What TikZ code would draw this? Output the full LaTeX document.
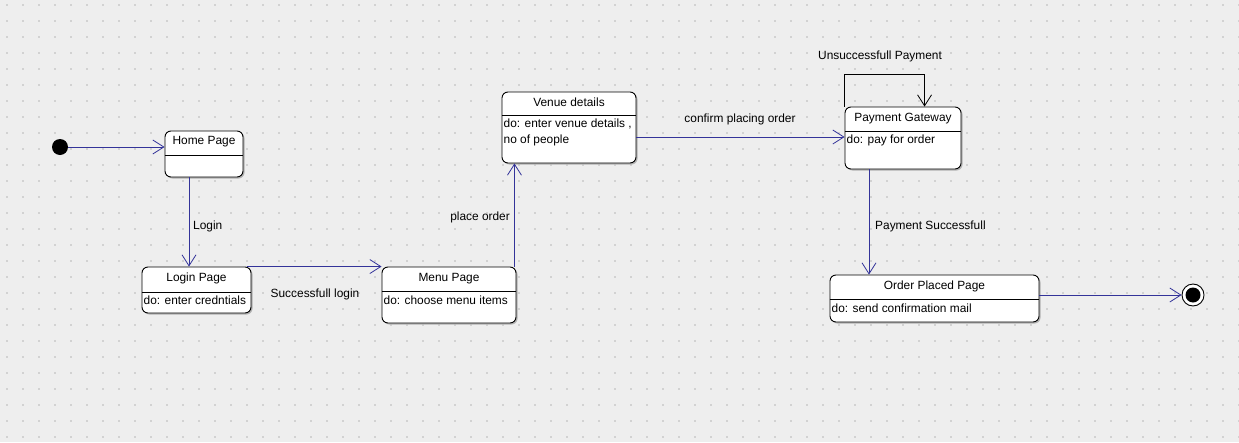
\documentclass[tikz,border=0pt]{standalone}
\usepackage{fontspec}
\setmainfont{Liberation Sans}
\usetikzlibrary{arrows.meta,shadows,calc}
\definecolor{bgc}{HTML}{EEEEEE}
\definecolor{dotc}{HTML}{D2D2D2}
\definecolor{arrc}{HTML}{333399}
\begin{document}
\begin{tikzpicture}[x=1pt,y=-1pt,
  font=\fontsize{11.9}{14}\selectfont,
  statebox/.style={draw=black, line width=0.9pt, fill=white, rounded corners=6pt, inner sep=0pt,
    drop shadow={shadow xshift=1.5pt, shadow yshift=-1.5pt, fill=black!30, opacity=1}},
  divline/.style={draw=black, line width=0.8pt},
  conn/.style={draw=arrc, line width=0.8pt, -{Straight Barb[length=11pt,width=14pt,line width=0.8pt]}},
  selfconn/.style={draw=black, line width=0.8pt, -{Straight Barb[length=11pt,width=14pt,line width=0.8pt]}},
  lbl/.style={inner sep=0pt, text=black},
  body/.style={inner sep=0pt, anchor=west, text=black}]
\useasboundingbox (0,0) rectangle (1239,442);
\fill[bgc] (0,0) rectangle (1239,442);
\foreach \i in {0,...,77} {\foreach \j in {0,...,27} {\fill[dotc] (6+16*\i,4+16*\j) rectangle ++(2,2);}}

% initial state
\node[circle, fill=black, minimum size=16pt, inner sep=0pt] (init) at (60,147) {};

% Home Page
\node[statebox, minimum width=78pt, minimum height=46pt] (home) at (204,154) {};
\draw[divline] (home.west |- 0,155) -- (home.east |- 0,155);
\node[lbl] (homet) at (204,142) {Home Page};

% Login Page
\node[statebox, minimum width=109pt, minimum height=46pt] (login) at (196.5,290) {};
\draw[divline] (login.west |- 0,292) -- (login.east |- 0,292);
\node[lbl] (logint) at (196.5,278.5) {Login Page};
\node[body] (loginb) at (143.5,300.5) {do: enter credntials};

% Menu Page
\node[statebox, minimum width=134pt, minimum height=56pt] (menu) at (449,295) {};
\draw[divline] (menu.west |- 0,291) -- (menu.east |- 0,291);
\node[lbl] (menut) at (449,278.5) {Menu Page};
\node[body] (menub) at (383.5,300.5) {do: choose menu items};

% Venue details
\node[statebox, minimum width=134pt, minimum height=71pt] (venue) at (569,127.5) {};
\draw[divline] (venue.west |- 0,115) -- (venue.east |- 0,115);
\node[lbl] (venuet) at (569,102.5) {Venue details};
\node[body] (venueb1) at (503.5,124) {do: enter venue details ,};
\node[body] (venueb2) at (503.5,140.5) {no of people};

% Payment Gateway
\node[statebox, minimum width=116pt, minimum height=62pt] (pay) at (903,138) {};
\draw[divline] (pay.west |- 0,131) -- (pay.east |- 0,131);
\node[lbl] (payt) at (903,118.5) {Payment Gateway};
\node[body] (payb) at (846.5,140.5) {do: pay for order};

% Order Placed Page
\node[statebox, minimum width=209pt, minimum height=47pt] (order) at (934.5,298.5) {};
\draw[divline] (order.west |- 0,299) -- (order.east |- 0,299);
\node[lbl] (ordert) at (934.5,286.5) {Order Placed Page};
\node[body] (orderb) at (831.5,308.5) {do: send confirmation mail};

% final state
\node[circle, draw=black, fill=white, line width=0.9pt, minimum size=22pt, inner sep=0pt] (final) at (1193,295) {};
\fill[black] (final.center) circle (7.5);

% connectors
\draw[conn] (init.east) -- (init -| home.west);
\draw[conn] ([xshift=-15pt]home.south) -- ([xshift=-15pt]home.south |- login.north);
\node[lbl, anchor=west] (loginl) at (193,226) {Login};
\draw[conn] ([xshift=-4pt]login.north east) -- (login.north east -| menu.west);
\node[lbl] (succl) at (315,294) {Successfull login};
\draw[conn] ([xshift=-2pt]menu.north east) -- ([xshift=-2pt]menu.north east |- venue.south);
\node[lbl, anchor=east] (placel) at (510,217) {place order};
\draw[conn] ([yshift=-9.5pt]venue.east) -- ([yshift=-9.5pt]venue.east -| pay.west);
\node[lbl] (confl) at (740,119) {confirm placing order};
\draw[selfconn] (pay.north west) -- ++(0,-32) -| ([xshift=80pt]pay.north west);
\node[lbl] (unsl) at (880,56) {Unsuccessfull Payment};
\draw[conn] ([xshift=-34pt]pay.south) -- ([xshift=-34pt]pay.south |- order.north);
\node[lbl, anchor=west] (paysl) at (875,226) {Payment Successfull};
\draw[conn] ([yshift=3.5pt]order.east) -- ([yshift=3.5pt]order.east -| final.west);
\end{tikzpicture}
\end{document}
